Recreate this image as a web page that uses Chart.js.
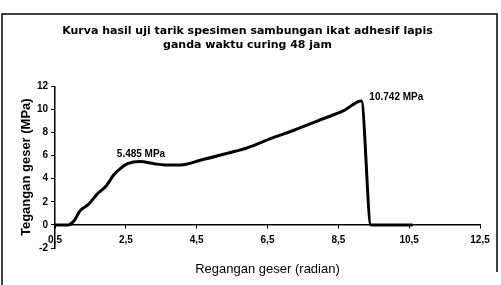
<!DOCTYPE html>
<html>
<head>
<meta charset="utf-8">
<script src="https://cdn.jsdelivr.net/npm/chart.js@4/dist/chart.umd.min.js"></script>
<style>
  html, body { margin: 0; padding: 0; background: #fff; }
  #wrap { width: 501px; height: 285px; }
</style>
</head>
<body>
<div id="wrap"><canvas id="grafik" width="501" height="285"></canvas></div>
<script>
// data kurva (regangan geser vs tegangan geser)
var regangan = [0.5, 0.87, 1.05, 1.2, 1.45, 1.7, 1.95, 2.15, 2.35, 2.55, 2.9, 3.3, 3.6, 4.05, 4.6, 5.35, 5.95, 6.6, 7.25, 7.9, 8.65, 9.15, 9.42, 10.6];
var tegangan = [0, 0, 0.4, 1.2, 1.8, 2.7, 3.4, 4.3, 4.9, 5.3, 5.485, 5.3, 5.2, 5.2, 5.6, 6.2, 6.7, 7.5, 8.2, 9.0, 9.9, 10.742, 0, 0];

// label puncak
var puncakX = [2.9, 9.15];
var puncakY = [5.485, 10.742];
var puncakLabel = ['5.485 MPa', '10.742 MPa'];

var xTicks = [0.5, 2.5, 4.5, 6.5, 8.5, 10.5, 12.5];
var yTicks = [-2, 0, 2, 4, 6, 8, 10, 12];

var fontFam = '"Liberation Sans", Arial, sans-serif';

var points = regangan.map(function (x, i) { return { x: x, y: tegangan[i] }; });

// bingkai dan label puncak
var extras = {
    id: 'extras',
    beforeDraw: function (chart) {
        var c = chart.ctx;
        c.save();
        c.strokeStyle = '#000';
        c.lineWidth = 1.5;
        c.beginPath();
        c.moveTo(2, 285);
        c.lineTo(2, 14);
        c.lineTo(497, 14);
        c.lineTo(497, 272);
        c.stroke();
        c.restore();
    },
    afterDatasetsDraw: function (chart) {
        var c = chart.ctx;
        var xs = chart.scales.x, ys = chart.scales.y;
        c.save();
        c.fillStyle = '#000';
        c.font = 'bold 10px ' + fontFam;
        // 5.485 di atas puncak
        c.textAlign = 'center';
        c.textBaseline = 'bottom';
        c.fillText(puncakLabel[0], xs.getPixelForValue(puncakX[0]) + 1, ys.getPixelForValue(puncakY[0]) - 2);
        // 10.742 di kanan puncak
        c.textAlign = 'left';
        c.textBaseline = 'middle';
        c.fillText(puncakLabel[1], xs.getPixelForValue(puncakX[1]) + 8, ys.getPixelForValue(puncakY[1]) - 4);
        c.restore();
    }
};

var ctx = document.getElementById('grafik');

var chartData = {
    datasets: [{
        data: points,
        borderColor: '#000',
        borderWidth: 3,
        pointRadius: 0,
        fill: false,
        cubicInterpolationMode: 'monotone'
    }]
};

var chartOptions = {
    responsive: false,
    animation: false,
    layout: { padding: { left: 15, right: 21, top: 0, bottom: 37 } },
    plugins: {
        legend: { display: false },
        tooltip: { enabled: false },
        title: {
            display: true,
            text: ['Kurva hasil uji tarik spesimen sambungan ikat adhesif lapis', 'ganda waktu curing 48 jam'],
            color: '#000',
            font: { family: '"DejaVu Sans", sans-serif', size: 11, weight: 'bold' },
            lineHeight: 1.45,
            padding: { top: 25, bottom: 35 }
        }
    },
    scales: {
        x: {
            type: 'linear',
            position: { y: 0 },
            min: 0.5,
            max: 12.5,
            afterBuildTicks: function (s) { s.ticks = xTicks.map(function (v) { return { value: v }; }); },
            ticks: {
                color: '#000',
                font: { family: fontFam, size: 10, weight: 'bold' },
                padding: 6,
                maxRotation: 0,
                callback: function (v) { return Number(v).toFixed(1).replace('.', ','); }
            },
            grid: { display: true, drawOnChartArea: false, color: '#000', tickLength: 3 },
            border: { display: true, color: '#000', width: 1.5 },
            title: {
                display: true,
                text: 'Regangan geser (radian)',
                color: '#000',
                font: { family: fontFam, size: 13 },
                padding: { top: 10 }
            }
        },
        y: {
            min: -2,
            max: 12,
            afterBuildTicks: function (s) { s.ticks = yTicks.map(function (v) { return { value: v }; }); },
            afterFit: function (s) { s.width = 40; },
            ticks: {
                color: '#000',
                font: { family: fontFam, size: 10, weight: 'bold' },
                padding: 3
            },
            grid: { display: true, drawOnChartArea: false, color: '#000', tickLength: 4 },
            border: { display: true, color: '#000', width: 1.5 },
            title: {
                display: true,
                text: 'Tegangan geser (MPa)',
                color: '#000',
                font: { family: fontFam, size: 13, weight: 'bold' },
                padding: { bottom: 2 }
            }
        }
    }
};

var config = {
    type: 'line',
    data: chartData,
    options: chartOptions,
    plugins: [extras]
};

var grafikChart = new Chart(ctx, config);
</script>
</body>
</html>
